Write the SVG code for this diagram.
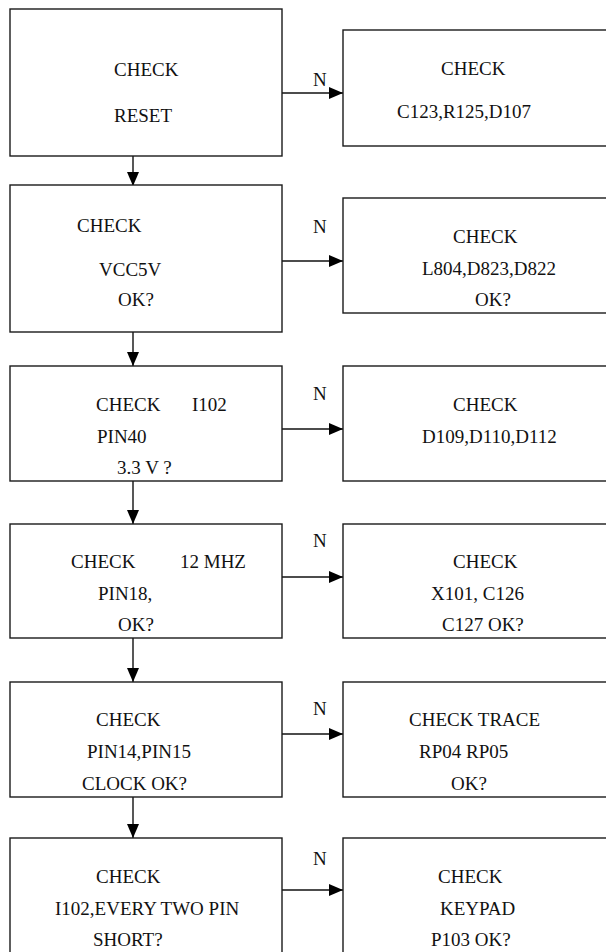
<svg xmlns="http://www.w3.org/2000/svg" width="606" height="952" viewBox="0 0 606 952">
<style>
.box{fill:#fff;stroke:#1a1a1a;stroke-width:1.4}
.t{font-family:"Liberation Serif","Times New Roman",serif;font-size:19px;fill:#111}
.ln{stroke:#111;stroke-width:1.4;fill:none}
</style>
<defs>
<marker id="ah" markerWidth="14" markerHeight="12" refX="14" refY="6" orient="auto" markerUnits="userSpaceOnUse">
<path d="M0,0 L14,6 L0,12 Z" fill="#000"/>
</marker>
</defs>
<rect width="606" height="952" fill="#fff"/>
<g id="connectors">
<line class="ln" x1="282" y1="93" x2="343" y2="93" marker-end="url(#ah)"/>
<line class="ln" x1="282" y1="261" x2="343" y2="261" marker-end="url(#ah)"/>
<line class="ln" x1="282" y1="429" x2="343" y2="429" marker-end="url(#ah)"/>
<line class="ln" x1="282" y1="577" x2="343" y2="577" marker-end="url(#ah)"/>
<line class="ln" x1="282" y1="734" x2="343" y2="734" marker-end="url(#ah)"/>
<line class="ln" x1="282" y1="890" x2="343" y2="890" marker-end="url(#ah)"/>
<line class="ln" x1="133" y1="156" x2="133" y2="186" marker-end="url(#ah)"/>
<line class="ln" x1="133" y1="332" x2="133" y2="366" marker-end="url(#ah)"/>
<line class="ln" x1="133" y1="481" x2="133" y2="524" marker-end="url(#ah)"/>
<line class="ln" x1="133" y1="638" x2="133" y2="682" marker-end="url(#ah)"/>
<line class="ln" x1="133" y1="797" x2="133" y2="838" marker-end="url(#ah)"/>
<text class="t" x="313" y="86">N</text>
<text class="t" x="313" y="233">N</text>
<text class="t" x="313" y="400">N</text>
<text class="t" x="313" y="547">N</text>
<text class="t" x="313" y="715">N</text>
<text class="t" x="313" y="865">N</text>
</g>
<g id="n1"><rect class="box" x="10" y="9" width="272" height="147"/>
<text class="t" x="114" y="76">CHECK</text><text class="t" x="114" y="122">RESET</text></g>
<g id="r1"><rect class="box" x="343" y="30" width="270" height="116"/>
<text class="t" x="441" y="75">CHECK</text><text class="t" x="397" y="118">C123,R125,D107</text></g>
<g id="n2"><rect class="box" x="10" y="185" width="272" height="147"/>
<text class="t" x="77" y="232">CHECK</text><text class="t" x="99" y="276">VCC5V</text><text class="t" x="118" y="306">OK?</text></g>
<g id="r2"><rect class="box" x="343" y="198" width="270" height="115"/>
<text class="t" x="453" y="243">CHECK</text><text class="t" x="422" y="275">L804,D823,D822</text><text class="t" x="475" y="306">OK?</text></g>
<g id="n3"><rect class="box" x="10" y="366" width="272" height="115"/>
<text class="t" x="96" y="411">CHECK</text><text class="t" x="192" y="411">I102</text><text class="t" x="97" y="443">PIN40</text><text class="t" x="117" y="474">3.3 V ?</text></g>
<g id="r3"><rect class="box" x="343" y="366" width="270" height="115"/>
<text class="t" x="453" y="411">CHECK</text><text class="t" x="422" y="443">D109,D110,D112</text></g>
<g id="n4"><rect class="box" x="10" y="524" width="272" height="114"/>
<text class="t" x="71" y="568">CHECK</text><text class="t" x="180" y="568">12 MHZ</text><text class="t" x="98" y="600">PIN18,</text><text class="t" x="118" y="631">OK?</text></g>
<g id="r4"><rect class="box" x="343" y="524" width="270" height="114"/>
<text class="t" x="453" y="568">CHECK</text><text class="t" x="431" y="600">X101, C126</text><text class="t" x="442" y="631">C127 OK?</text></g>
<g id="n5"><rect class="box" x="10" y="682" width="272" height="115"/>
<text class="t" x="96" y="726">CHECK</text><text class="t" x="87" y="758">PIN14,PIN15</text><text class="t" x="82" y="790">CLOCK OK?</text></g>
<g id="r5"><rect class="box" x="343" y="682" width="270" height="115"/>
<text class="t" x="409" y="726">CHECK TRACE</text><text class="t" x="419" y="758">RP04 RP05</text><text class="t" x="451" y="790">OK?</text></g>
<g id="n6"><rect class="box" x="10" y="838" width="272" height="125"/>
<text class="t" x="96" y="883">CHECK</text><text class="t" x="55" y="915">I102,EVERY TWO PIN</text><text class="t" x="93" y="946">SHORT?</text></g>
<g id="r6"><rect class="box" x="343" y="838" width="270" height="125"/>
<text class="t" x="438" y="883">CHECK</text><text class="t" x="440" y="915">KEYPAD</text><text class="t" x="431" y="946">P103 OK?</text></g>
</svg>
